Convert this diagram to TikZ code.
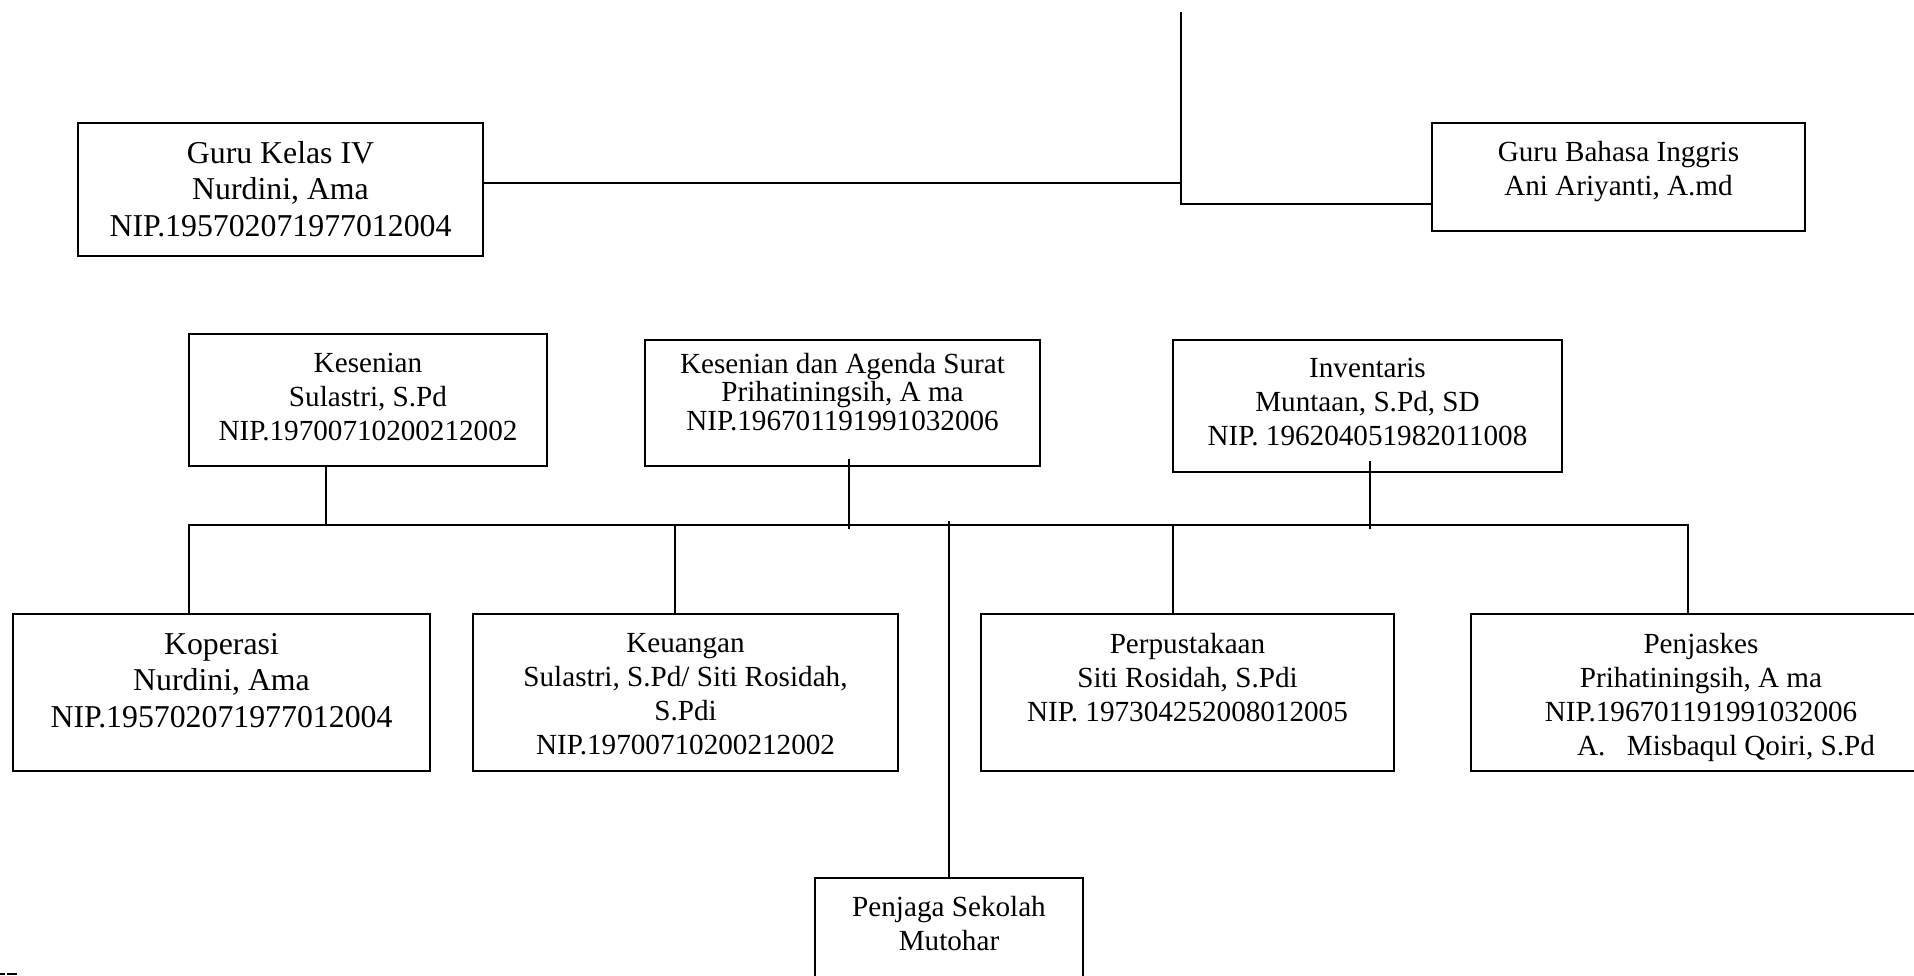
\documentclass[tikz,border=0pt]{standalone}
\usepackage{fontspec}
\setmainfont{Liberation Serif}
\usetikzlibrary{positioning}

\begin{document}
\begin{tikzpicture}[x=0.02cm, y=-0.02cm,
    box/.style={draw, line width=0.04cm, anchor=north west, inner sep=0pt},
    txt/.style={align=center, inner sep=0pt, anchor=north, font=\fontsize{16.6}{19.35}\selectfont},
    link/.style={line width=0.03cm}]
  \useasboundingbox (0,0) rectangle (1914,976);
  \clip (0,0) rectangle (1914,976);

  % Draw the two teachers at the top
  \node[box, minimum width=405*0.02cm, minimum height=133*0.02cm] (gurukelas) at (77,122) {};
  \node[txt, font=\fontsize{18.1}{20.8}\selectfont, below=0.38cm of gurukelas.north] (gurukelas-txt) {Guru Kelas IV\\Nurdini, Ama\\NIP.195702071977012004};
  \node[box, minimum width=373*0.02cm, minimum height=108*0.02cm] (gurubahasa) at (1431,122) {};
  \node[txt, below=0.37cm of gurubahasa.north] (gurubahasa-txt) {Guru Bahasa Inggris\\Ani Ariyanti, A.md};

  % Draw the line coming down from above
  \coordinate (top) at (1181,12);
  \coordinate (kelas-join) at (1181,183);
  \coordinate (bahasa-join) at (1181,204);
  \draw[link] (top) -- (bahasa-join) -- (bahasa-join -| gurubahasa.west);
  \draw[link] (kelas-join -| gurukelas.east) -- (kelas-join);

  % Draw the middle row
  \node[box, minimum width=358*0.02cm, minimum height=132*0.02cm] (kesenian) at (188,333) {};
  \node[txt, below=0.4cm of kesenian.north] (kesenian-txt) {Kesenian\\Sulastri, S.Pd\\NIP.19700710200212002};
  \node[box, minimum width=395*0.02cm, minimum height=126*0.02cm] (agenda) at (644,339) {};
  \node[txt, font=\fontsize{16.6}{16.1}\selectfont, below=0.28cm of agenda.north] (agenda-txt) {Kesenian dan Agenda Surat\\Prihatiningsih, A ma\\NIP.196701191991032006};
  \node[box, minimum width=389*0.02cm, minimum height=132*0.02cm] (inventaris) at (1172,339) {};
  \node[txt, below=0.37cm of inventaris.north] (inventaris-txt) {Inventaris\\Muntaan, S.Pd, SD\\NIP. 196204051982011008};

  % Draw the lower row
  \foreach \name/\x/\w/\fs/\ls/\txt in {
      koperasi/12/417/18.1/20.8/{Koperasi\\Nurdini, Ama\\NIP.195702071977012004},
      keuangan/472/425/16.6/19.35/{Keuangan\\Sulastri, S.Pd/ Siti Rosidah,\\S.Pdi\\NIP.19700710200212002},
      perpustakaan/980/413/16.6/19.35/{Perpustakaan\\Siti Rosidah, S.Pdi\\NIP. 197304252008012005},
      penjaskes/1470/460/16.6/19.35/{Penjaskes\\Prihatiningsih, A ma\\NIP.196701191991032006\\\hspace*{1cm}A.\hspace{0.43cm}Misbaqul Qoiri, S.Pd}} {
    \node[box, minimum width=\w*0.02cm, minimum height=157*0.02cm] (\name) at (\x,613) {};
    \node[txt, font=\fontsize{\fs}{\ls}\selectfont, below=0.4cm of \name.north] (\name-txt) {\txt};
  }

  % Draw the school guard at the bottom
  \node[box, minimum width=268*0.02cm, minimum height=140*0.02cm] (penjaga) at (814,877) {};
  \node[txt, below=0.38cm of penjaga.north] (penjaga-txt) {Penjaga Sekolah\\Mutohar};

  % Draw the bus between the rows
  \coordinate (bus) at (0,525);
  \coordinate (koperasi-top) at ([xshift=-0.65cm]koperasi.north);
  \coordinate (keuangan-top) at ([xshift=-0.21cm]keuangan.north);
  \coordinate (perpustakaan-top) at ([xshift=-0.29cm]perpustakaan.north);
  \coordinate (penjaskes-top) at ([xshift=-0.26cm]penjaskes.north);
  \coordinate (kesenian-bot) at ([xshift=-0.84cm]kesenian.south);
  \coordinate (agenda-bot) at ([xshift=0.13cm, yshift=0.16cm]agenda.south);
  \coordinate (inventaris-bot) at ([xshift=0.05cm, yshift=0.24cm]inventaris.south);
  \draw[link] (koperasi-top) |- (bus -| penjaskes-top) -- (penjaskes-top);
  \draw[link] (keuangan-top) -- (keuangan-top |- bus);
  \draw[link] (perpustakaan-top) -- (perpustakaan-top |- bus);
  \draw[link] (kesenian-bot) -- (kesenian-bot |- bus);
  \draw[link] (agenda-bot) -- (agenda-bot |- bus) -- ++(0,4);
  \draw[link] (inventaris-bot) -- (inventaris-bot |- bus) -- ++(0,4);
  \draw[link] (penjaga.north |- bus) ++(0,-4) -- (penjaga.north);

  % Small marks at the lower left edge
  \draw[line width=0.05cm] (0,974) -- (5,974) (7,974) -- (17,974);
\end{tikzpicture}
\end{document}
